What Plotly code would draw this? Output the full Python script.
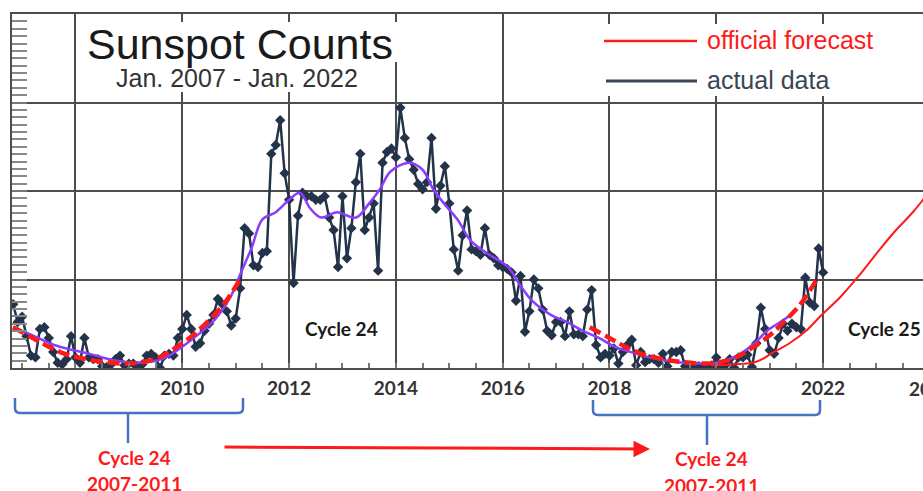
import numpy as np
import plotly.graph_objects as go

# ---------------- data ----------------
start_year, start_month = 2006, 11
ssn_monthly = [
    36, 26,                                                     # 2006 Nov-Dec
    29, 18, 7, 6, 22, 23, 17, 9, 3, 2, 5, 18,                   # 2007
    6, 3, 17, 6, 5, 5, 1, 0.5, 2, 5, 7, 1.5,                    # 2008
    2.5, 2.5, 1, 2, 7, 8, 6, 0, 7, 8, 7, 17,                    # 2009
    22, 30, 22, 12, 14, 21, 25, 30, 39, 36, 32, 24,             # 2010
    28, 45, 79, 76, 58, 57, 65, 66, 121, 126, 140, 110,         # 2011
    95, 48, 86, 99, 97, 97, 95, 95, 97, 85, 78, 57,             # 2012
    97, 62, 79, 105, 121, 78, 85, 93, 55, 116, 122, 124,        # 2013
    119, 147, 130, 118, 112, 104, 101, 105, 130, 90, 103, 114,  # 2014
    93, 67, 55, 75, 89, 67, 66, 64, 79, 64, 62, 58,             # 2015
    57, 56, 54, 38, 52, 20.5, 32, 50, 45, 33, 21, 18.5,         # 2016
    26, 26, 18, 32, 19, 19, 18, 33, 44, 13, 6, 8,               # 2017
    7, 11, 2.5, 9, 13, 16, 1.6, 9, 3.3, 5, 5, 3,                # 2018
    8, 1, 9, 9, 10, 1, 1, 0.5, 1, 0.4, 0.5, 1.5,                # 2019
    6, 0.2, 1.5, 5, 0.2, 6, 6, 7.5, 0.6, 14, 34, 22,            # 2020
    10, 8, 17, 25, 21, 25, 23, 22, 51, 37, 35, 67.5,            # 2021
    54,                                                         # 2022 Jan
]

smooth_years = [2006.83, 2007.0, 2007.3, 2007.6, 2007.9, 2008.2, 2008.5, 2008.8, 2009.1,
                2009.4, 2009.7, 2010.0, 2010.3, 2010.6, 2010.9, 2011.1, 2011.3, 2011.5,
                2011.75, 2012.0, 2012.2, 2012.4, 2012.6, 2012.9, 2013.25, 2013.5, 2013.7,
                2013.9, 2014.25, 2014.5, 2014.7, 2014.9, 2015.15, 2015.4, 2015.7, 2016.1,
                2016.3, 2016.55, 2016.9, 2017.2, 2017.5, 2017.8, 2018.1, 2018.4, 2018.75,
                2019.1, 2019.4, 2019.75, 2020.0, 2020.25, 2020.5, 2020.75, 2020.95, 2021.2,
                2021.4]
smooth_vals = [23, 21, 17, 13, 10.5, 8.5, 6, 4, 3,
               3.5, 6, 12, 19, 27, 40, 54, 68, 84,
               88, 95, 99, 90, 85, 88, 85, 93, 101,
               111, 116, 112, 101, 93, 84, 72, 65, 57,
               48, 38, 30, 26, 21, 17, 12, 9, 6,
               4, 3, 2.5, 3, 5, 9, 15, 21, 26,
               30]

# red dashed: cycle-24 minimum phase 2007-2011, repeated shifted onto 2018-2022
c24_years = [2006.83, 2007.2, 2007.5, 2007.8, 2008.2, 2008.6, 2009.0, 2009.3,
             2009.6, 2009.9, 2010.2, 2010.5, 2010.8, 2011.1]
c24_vals = [23, 17, 12, 8, 5, 3.2, 2.5, 3.5, 6.5, 12, 18.5, 27, 37, 51]
c24_shift_years = 10.8

forecast_years = [2019.9, 2020.3, 2020.75, 2021.05, 2021.37, 2021.7, 2021.94, 2022.32,
                  2022.64, 2023.01, 2023.31, 2023.68, 2023.87, 2024.0]
forecast_vals = [1.5, 2, 3.5, 8.5, 14, 21.5, 29, 40, 51, 65, 76, 88, 95, 100]

tick_years = [2008, 2010, 2012, 2014, 2016, 2018, 2020, 2022]
tick_labels = ["2008", "2010", "2012", "2014", "2016", "2018", "2020", "2022"]

# ---------------- geometry helpers ----------------
W, H = 923, 491
L, R, T, B = 12, 923, 14, 368          # plot area in pixels
X0, X1 = 2006.811, 2023.871
def px(x):  # pixel -> paper x
    return (x - L) / (R - L)
def py(y):  # pixel -> paper y
    return (B - y) / (B - T)

n = len(ssn_monthly)
month_idx = np.arange(n) + (start_month - 1)
x_months = start_year + month_idx / 12.0

DARK = "#22334a"
RED = "#ff1a1a"
PURPLE = "#8a3cff"
BLUE = "#4472c4"
GRID = "#4d4d4d"

fig = go.Figure()
fig.add_trace(go.Scatter(x=x_months, y=ssn_monthly, mode="lines+markers",
                         line=dict(color=DARK, width=2.5),
                         marker=dict(symbol="diamond", size=8, color=DARK),
                         hoverinfo="skip"))
fig.add_trace(go.Scatter(x=smooth_years, y=smooth_vals, mode="lines",
                         line=dict(color=PURPLE, width=2.5, shape="spline"),
                         hoverinfo="skip"))
fig.add_trace(go.Scatter(x=c24_years, y=c24_vals, mode="lines",
                         line=dict(color=RED, width=4.5, dash="12px,5px", shape="spline"),
                         hoverinfo="skip"))
fig.add_trace(go.Scatter(x=[v + c24_shift_years for v in c24_years], y=c24_vals, mode="lines",
                         line=dict(color=RED, width=4.5, dash="12px,5px", shape="spline"),
                         hoverinfo="skip"))
fig.add_trace(go.Scatter(x=forecast_years, y=forecast_vals, mode="lines",
                         line=dict(color=RED, width=2, shape="spline"),
                         hoverinfo="skip"))

shapes = []
# white boxes behind title / legend (hide gridlines)
for (x0, y0, x1, y1) in [(80, 22, 402, 62), (108, 62, 368, 92), (598, 24, 832, 96)]:
    shapes.append(dict(type="rect", xref="paper", yref="paper", layer="above",
                       x0=px(x0), x1=px(x1), y0=py(y1), y1=py(y0),
                       fillcolor="white", line=dict(width=0)))
# legend line samples
shapes.append(dict(type="line", xref="paper", yref="paper", x0=px(604), x1=px(697),
                   y0=py(41), y1=py(41), line=dict(color=RED, width=2.5)))
shapes.append(dict(type="line", xref="paper", yref="paper", x0=px(606), x1=px(697),
                   y0=py(81), y1=py(81), line=dict(color="#3a4556", width=3)))

def bracket(xl, xr, ytop, yh, xs, ybot):
    r = 5
    p = (f"M {px(xl)},{py(ytop)} L {px(xl)},{py(yh - r)} "
         f"Q {px(xl)},{py(yh)} {px(xl + r)},{py(yh)} "
         f"L {px(xr - r)},{py(yh)} Q {px(xr)},{py(yh)} {px(xr)},{py(yh - r)} "
         f"L {px(xr)},{py(ytop)} "
         f"M {px(xs)},{py(yh)} L {px(xs)},{py(ybot)}")
    return dict(type="path", xref="paper", yref="paper", path=p,
                line=dict(color=BLUE, width=2.5))
shapes.append(bracket(15, 243, 398, 413, 128, 443))
shapes.append(bracket(593, 820, 400, 415, 707, 445))

ann = []
ann.append(dict(text="Sunspot Counts", x=px(240), y=py(44), xref="paper", yref="paper",
                showarrow=False, xanchor="center", yanchor="middle",
                font=dict(family="Liberation Sans", size=43, color="#1a1a1a")))
ann.append(dict(text="Jan. 2007 - Jan. 2022", x=px(237), y=py(78), xref="paper", yref="paper",
                showarrow=False, xanchor="center", yanchor="middle",
                font=dict(family="Liberation Sans", size=25, color="#333333")))
ann.append(dict(text="official forecast", x=px(705), y=py(40), xref="paper", yref="paper",
                showarrow=False, xanchor="left", yanchor="middle",
                font=dict(family="Liberation Sans", size=25, color=RED)))
ann.append(dict(text="actual data", x=px(705), y=py(80), xref="paper", yref="paper",
                showarrow=False, xanchor="left", yanchor="middle",
                font=dict(family="Liberation Sans", size=25, color="#3a4556")))
bold = dict(family="Lato", size=19, weight=700)
ann.append(dict(text="Cycle 24", x=px(341), y=py(328), xref="paper", yref="paper",
                showarrow=False, xanchor="center", yanchor="middle",
                font=dict(**bold, color="#1a1a1a")))
ann.append(dict(text="Cycle 25", x=px(884), y=py(328), xref="paper", yref="paper",
                showarrow=False, xanchor="center", yanchor="middle",
                font=dict(**bold, color="#1a1a1a")))
ann.append(dict(text="20", x=px(907), y=py(388), xref="paper", yref="paper",
                showarrow=False, xanchor="left", yanchor="middle",
                font=dict(**bold, color="#333333")))
for cx, y1, y2 in [(134, 457, 484), (711, 458, 485)]:
    ann.append(dict(text="Cycle 24", x=px(cx), y=py(y1), xref="paper", yref="paper",
                    showarrow=False, xanchor="center", yanchor="middle",
                    font=dict(**bold, color=RED)))
    ann.append(dict(text="2007-2011", x=px(cx), y=py(y2), xref="paper", yref="paper",
                    showarrow=False, xanchor="center", yanchor="middle",
                    font=dict(**bold, color=RED)))
ann.append(dict(text="", x=px(650), y=py(449), xref="paper", yref="paper",
                showarrow=True, ax=223 - 650, ay=447 - 449, arrowhead=2,
                arrowsize=1.1, arrowwidth=3, arrowcolor=RED))

fig.update_layout(
    width=W, height=H,
    margin=dict(l=L, r=W - R, t=T, b=H - B, autoexpand=False),
    paper_bgcolor="white", plot_bgcolor="white", showlegend=False,
    shapes=shapes, annotations=ann,
    xaxis=dict(range=[X0, X1], tickmode="array", tickvals=tick_years, ticktext=tick_labels,
               showgrid=True, gridcolor=GRID, gridwidth=2, automargin=False,
               showline=True, linecolor=GRID, linewidth=2, mirror=True,
               ticks="inside", ticklen=5, tickcolor="#777", tickwidth=1.5,
               ticklabelstandoff=2,
               tickfont=dict(family="Lato", size=19, weight=700, color="#333333"),
               minor=dict(tick0=2007, dtick=0.5, ticks="inside", ticklen=5,
                          tickcolor="#777", tickwidth=1.5, showgrid=False),
               zeroline=False, fixedrange=True),
    yaxis=dict(range=[0, 200], tickmode="linear", tick0=0, dtick=50, showticklabels=False,
               showgrid=True, gridcolor=GRID, gridwidth=2, automargin=False,
               showline=True, linecolor=GRID, linewidth=2, mirror=False,
               ticks="inside", ticklen=15, tickcolor="#777", tickwidth=2,
               minor=dict(tick0=0, dtick=50 / 12, ticks="inside", ticklen=15,
                          tickcolor="#888", tickwidth=2, showgrid=False),
               zeroline=False, fixedrange=True),
)

fig.write_html("out.html", config={"displayModeBar": False},
               post_script="document.body.style.margin='0px';"
               "document.body.style.overflow='hidden';")
